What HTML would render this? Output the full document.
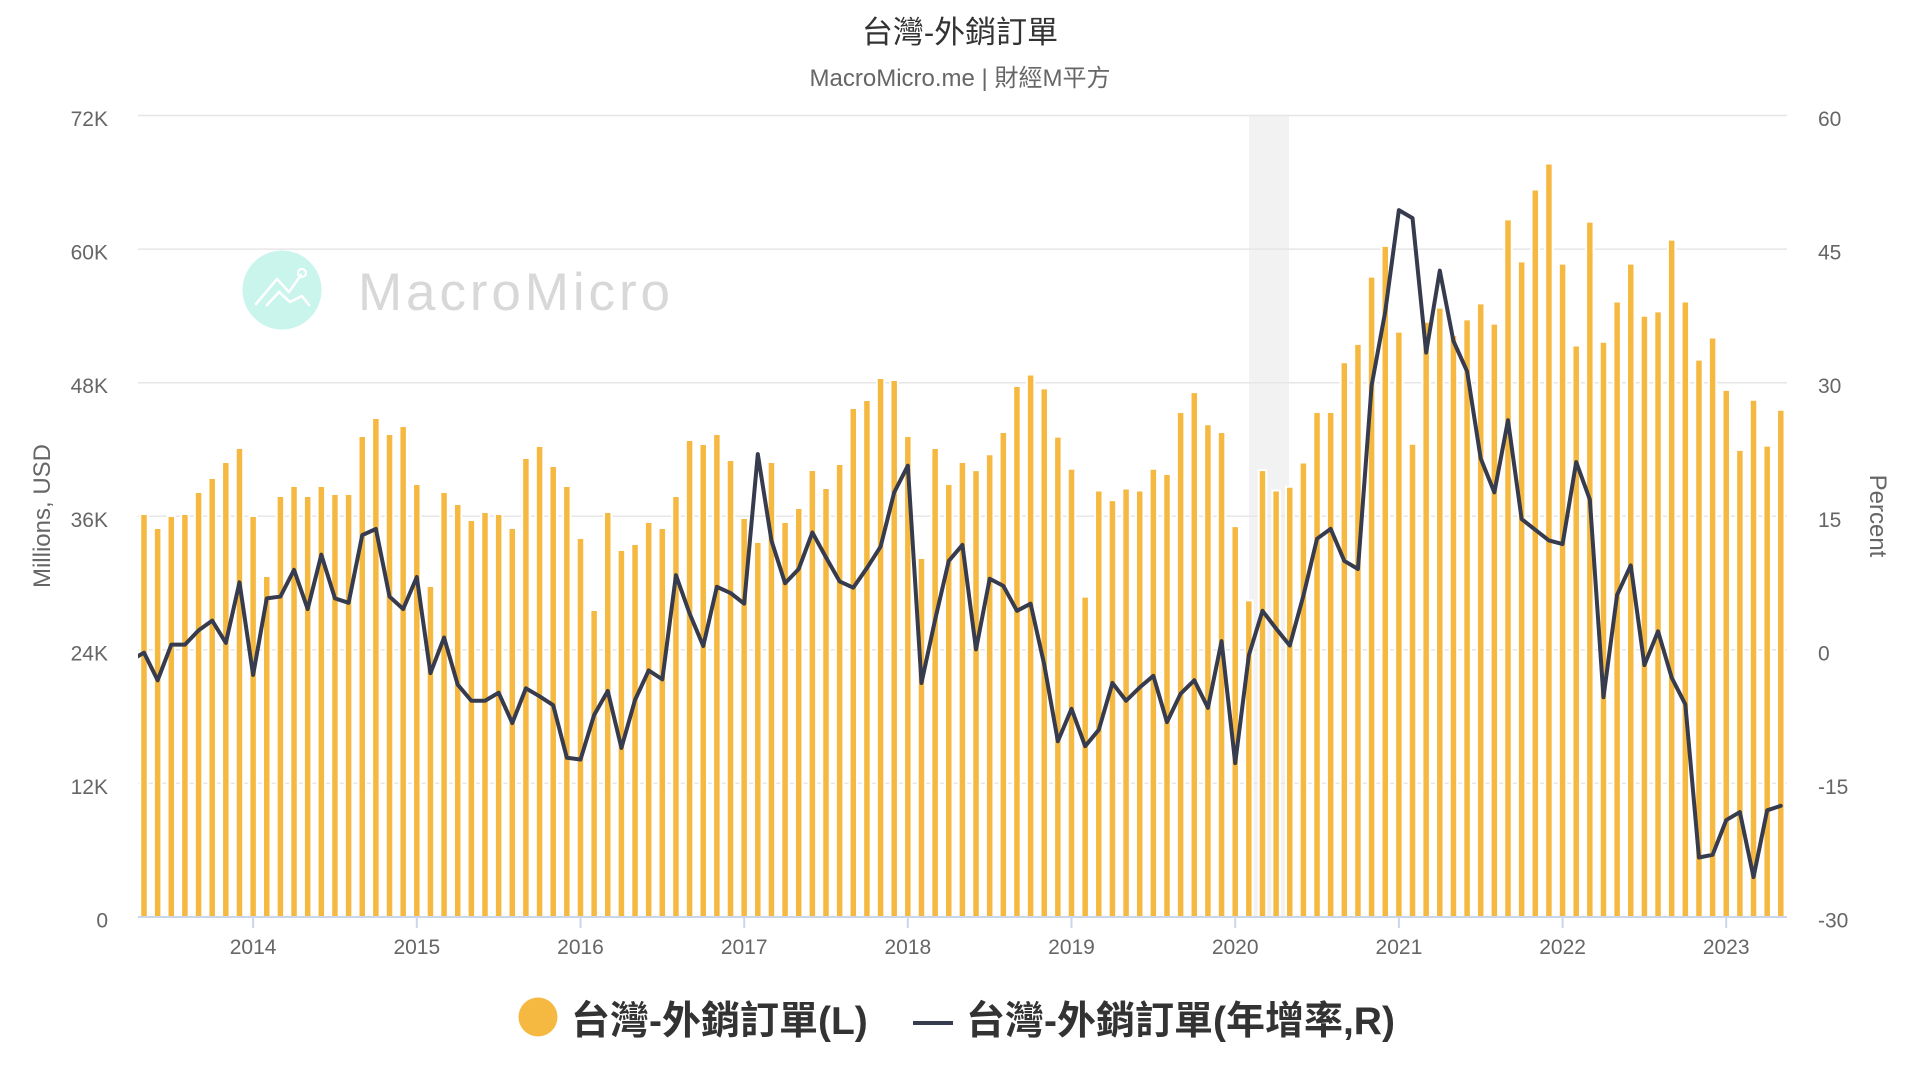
<!DOCTYPE html>
<html>
<head>
<meta charset="utf-8">
<style>
html,body{margin:0;padding:0;background:#fff;}
svg{display:block;}
text{font-family:"Liberation Sans","Noto Sans CJK TC","Noto Sans CJK SC",sans-serif;}
</style>
</head>
<body>
<svg width="1920" height="1080" viewBox="0 0 1920 1080" xmlns="http://www.w3.org/2000/svg">
<rect x="0" y="0" width="1920" height="1080" fill="#ffffff"/>
<defs>
<clipPath id="plot"><rect x="138" y="100" width="1649" height="830"/></clipPath>
</defs>

<text x="960" y="43" text-anchor="middle" font-size="31" fill="#333333">台灣-外銷訂單</text>
<text x="960" y="86" text-anchor="middle" font-size="24" fill="#666666">MacroMicro.me | 財經M平方</text>

<rect x="1249" y="115.5" width="40" height="801.5" fill="#f2f2f2"/>

<g stroke="#e6e6e6" stroke-width="1.5">
<line x1="138" y1="115.5" x2="1787" y2="115.5"/>
<line x1="138" y1="249.1" x2="1787" y2="249.1"/>
<line x1="138" y1="382.7" x2="1787" y2="382.7"/>
<line x1="138" y1="516.3" x2="1787" y2="516.3"/>
<line x1="138" y1="649.8" x2="1787" y2="649.8"/>
<line x1="138" y1="783.4" x2="1787" y2="783.4"/>
</g>

<circle cx="282" cy="290" r="39.5" fill="#c9f5ec"/>
<polyline points="256,304 277,279 289,292 301,275" fill="none" stroke="#ffffff" stroke-width="2.6" stroke-linejoin="round" stroke-linecap="round"/>
<polyline points="267,305 279,292 290,302 302,296 309,305" fill="none" stroke="#ffffff" stroke-width="2.6" stroke-linejoin="round" stroke-linecap="round"/>
<circle cx="302" cy="273" r="4" fill="none" stroke="#ffffff" stroke-width="2.2"/>
<text x="358" y="310" font-size="53" fill="#d8d8d8" textLength="312" lengthAdjust="spacing">MacroMicro</text>

<g clip-path="url(#plot)">
<g transform="matrix(13.64 0 0 -11.132 144 917)">
<path vector-effect="non-scaling-stroke" fill="#f5b941" stroke="#ffffff" stroke-width="2" d="M-.275 0
v36.2h.55V0zm1 0v34.94h.55V0zm1 0v36.02h.55V0zm1 0v36.2h.55V0zm1 0v38.18h.55V0zm1 0v39.44h.55V0zm1 0v40.87h.55V0zm1 0v42.13h.55V0zm1 0v36.02h.55V0zm1 0v30.63h.55V0z
m1 0v37.82h.55V0zm1 0v38.72h.55V0zm1 0v37.82h.55V0zm1 0v38.72h.55V0zm1 0v38h.55V0zm1 0v38h.55V0zm1 0v43.21h.55V0zm1 0v44.83h.55V0zm1 0v43.39h.55V0zm1 0v44.11h.55V0z
m1 0v38.9h.55V0zm1 0v29.73h.55V0zm1 0v38.18h.55V0zm1 0v37.1h.55V0zm1 0v35.66h.55V0zm1 0v36.38h.55V0zm1 0v36.2h.55V0zm1 0v34.94h.55V0zm1 0v41.23h.55V0zm1 0v42.31h.55V0z
m1 0v40.51h.55V0zm1 0v38.72h.55V0zm1 0v34.05h.55V0zm1 0v27.58h.55V0zm1 0v36.38h.55V0zm1 0v32.97h.55V0zm1 0v33.51h.55V0zm1 0v35.48h.55V0zm1 0v34.94h.55V0zm1 0v37.82h.55V0z
m1 0v42.85h.55V0zm1 0v42.49h.55V0zm1 0v43.39h.55V0zm1 0v41.05h.55V0zm1 0v35.84h.55V0zm1 0v33.69h.55V0zm1 0v40.87h.55V0zm1 0v35.48h.55V0zm1 0v36.74h.55V0zm1 0v40.15h.55V0z
m1 0v38.54h.55V0zm1 0v40.69h.55V0zm1 0v45.72h.55V0zm1 0v46.44h.55V0zm1 0v48.42h.55V0zm1 0v48.24h.55V0zm1 0v43.21h.55V0zm1 0v32.25h.55V0zm1 0v42.13h.55V0zm1 0v38.9h.55V0z
m1 0v40.87h.55V0zm1 0v40.14h.55V0zm1 0v41.57h.55V0zm1 0v43.57h.55V0zm1 0v47.7h.55V0zm1 0v48.73h.55V0zm1 0v47.49h.55V0zm1 0v43.15h.55V0zm1 0v40.27h.55V0zm1 0v28.78h.55V0z
m1 0v38.31h.55V0zm1 0v37.45h.55V0zm1 0v38.49h.55V0zm1 0v38.31h.55V0zm1 0v40.27h.55V0zm1 0v39.79h.55V0zm1 0v45.36h.55V0zm1 0v47.15h.55V0zm1 0v44.26h.55V0zm1 0v43.57h.55V0z
m1 0v35.11h.55V0zm1 0v28.44h.55V0zm1 0v40.14h.55V0zm1 0v38.31h.55V0zm1 0v38.65h.55V0zm1 0v40.83h.55V0zm1 0v45.36h.55V0zm1 0v45.36h.55V0zm1 0v49.83h.55V0zm1 0v51.48h.55V0z
m1 0v57.53h.55V0zm1 0v60.29h.55V0zm1 0v52.58h.55V0zm1 0v42.51h.55V0zm1 0v53.47h.55V0zm1 0v54.74h.55V0zm1 0v52.27h.55V0zm1 0v53.68h.55V0zm1 0v55.12h.55V0zm1 0v53.3h.55V0z
m1 0v62.67h.55V0zm1 0v58.9h.55V0zm1 0v65.35h.55V0zm1 0v67.69h.55V0zm1 0v58.69h.55V0zm1 0v51.34h.55V0zm1 0v62.47h.55V0zm1 0v51.68h.55V0zm1 0v55.29h.55V0zm1 0v58.69h.55V0z
m1 0v54.01h.55V0zm1 0v54.4h.55V0zm1 0v60.85h.55V0zm1 0v55.29h.55V0zm1 0v50.07h.55V0zm1 0v52.06h.55V0zm1 0v47.35h.55V0zm1 0v41.96h.55V0zm1 0v46.46h.55V0zm1 0v42.34h.55V0z
m1 0v45.57h.55V0z"/>
</g>
</g>

<line x1="138" y1="917" x2="1787" y2="917" stroke="#ccd6eb" stroke-width="2"/>
<path d="M253.1 917v11M416.8 917v11M580.5 917v11M744.2 917v11M907.8 917v11M1071.5 917v11M1235.2 917v11M1398.9 917v11M1562.6 917v11M1726.2 917v11" stroke="#ccd6eb" stroke-width="2" fill="none"/>

<g clip-path="url(#plot)">
<g transform="matrix(13.64 0 0 -8.905 144 650)">
<polyline vector-effect="non-scaling-stroke" fill="none" stroke="#363b4e" stroke-width="4" stroke-linejoin="round" stroke-linecap="round" points="-1,-1.2 0,-0.3 1,-3.4 2,0.6 3,0.6 4,2.2 5,3.3 6,0.8 7,7.6 8,-2.8 9,5.8 10,6.0 11,9.0 12,4.6 13,10.7 14,5.8 15,5.3 16,12.9 17,13.6 18,6.0 19,4.6 20,8.2 21,-2.6 22,1.4 23,-3.9 24,-5.7 25,-5.7 26,-4.8 27,-8.2 28,-4.3 29,-5.2 30,-6.2 31,-12.1 32,-12.3 33,-7.3 34,-4.6 35,-11.0 36,-5.6 37,-2.3 38,-3.3 39,8.4 40,4.1 41,0.45 42,7.1 43,6.4 44,5.2 45,22.0 46,12.3 47,7.5 48,9.1 49,13.2 50,10.4 51,7.7 52,7.0 53,9.2 54,11.6 55,17.7 56,20.7 57,-3.7 58,3.4 59,10.0 60,11.8 61,0.07 62,8.0 63,7.2 64,4.4 65,5.2 66,-1.65 67,-10.25 68,-6.6 69,-10.8 70,-8.96 71,-3.7 72,-5.7 73,-4.2 74,-2.9 75,-8.1 76,-4.9 77,-3.4 78,-6.5 79,1.0 80,-12.7 81,-0.6 82,4.4 83,2.4 84,0.5 85,6.1 86,12.5 87,13.6 88,10.0 89,9.1 90,29.7 91,38.0 92,49.4 93,48.5 94,33.4 95,42.6 96,34.7 97,31.3 98,21.5 99,17.7 100,25.8 101,14.7 102,13.5 103,12.3 104,11.9 105,21.1 106,16.9 107,-5.3 108,6.2 109,9.5 110,-1.7 111,2.1 112,-3.1 113,-6.1 114,-23.3 115,-23.0 116,-19.1 117,-18.2 118,-25.5 119,-18.0 120,-17.5"/>
</g>
</g>

<g font-size="21" fill="#666666" text-anchor="end">
<text x="108" y="126">72K</text>
<text x="108" y="259.6">60K</text>
<text x="108" y="393.2">48K</text>
<text x="108" y="526.8">36K</text>
<text x="108" y="660.3">24K</text>
<text x="108" y="793.9">12K</text>
<text x="108" y="927.5">0</text>
</g>

<g font-size="21" fill="#666666" text-anchor="start">
<text x="1818" y="126">60</text>
<text x="1818" y="259.6">45</text>
<text x="1818" y="393.2">30</text>
<text x="1818" y="526.8">15</text>
<text x="1818" y="660.3">0</text>
<text x="1818" y="793.9">-15</text>
<text x="1818" y="927.5">-30</text>
</g>

<g font-size="21" fill="#666666" text-anchor="middle">
<text x="253.1" y="954">2014</text>
<text x="416.8" y="954">2015</text>
<text x="580.5" y="954">2016</text>
<text x="744.2" y="954">2017</text>
<text x="907.8" y="954">2018</text>
<text x="1071.5" y="954">2019</text>
<text x="1235.2" y="954">2020</text>
<text x="1398.9" y="954">2021</text>
<text x="1562.6" y="954">2022</text>
<text x="1726.2" y="954">2023</text>
</g>

<text transform="translate(50,516) rotate(-90)" text-anchor="middle" font-size="24" fill="#666666">Millions, USD</text>
<text transform="translate(1870,516) rotate(90)" text-anchor="middle" font-size="24" fill="#666666">Percent</text>

<circle cx="538" cy="1017" r="19.5" fill="#f5b941"/>
<text x="571" y="1034" font-size="39" font-weight="700" fill="#333333">台灣-外銷訂單(L)</text>
<line x1="913" y1="1023" x2="953" y2="1023" stroke="#363b4e" stroke-width="4"/>
<text x="966" y="1034" font-size="39" font-weight="700" fill="#333333">台灣-外銷訂單(年增率,R)</text>
</svg>
</body>
</html>
